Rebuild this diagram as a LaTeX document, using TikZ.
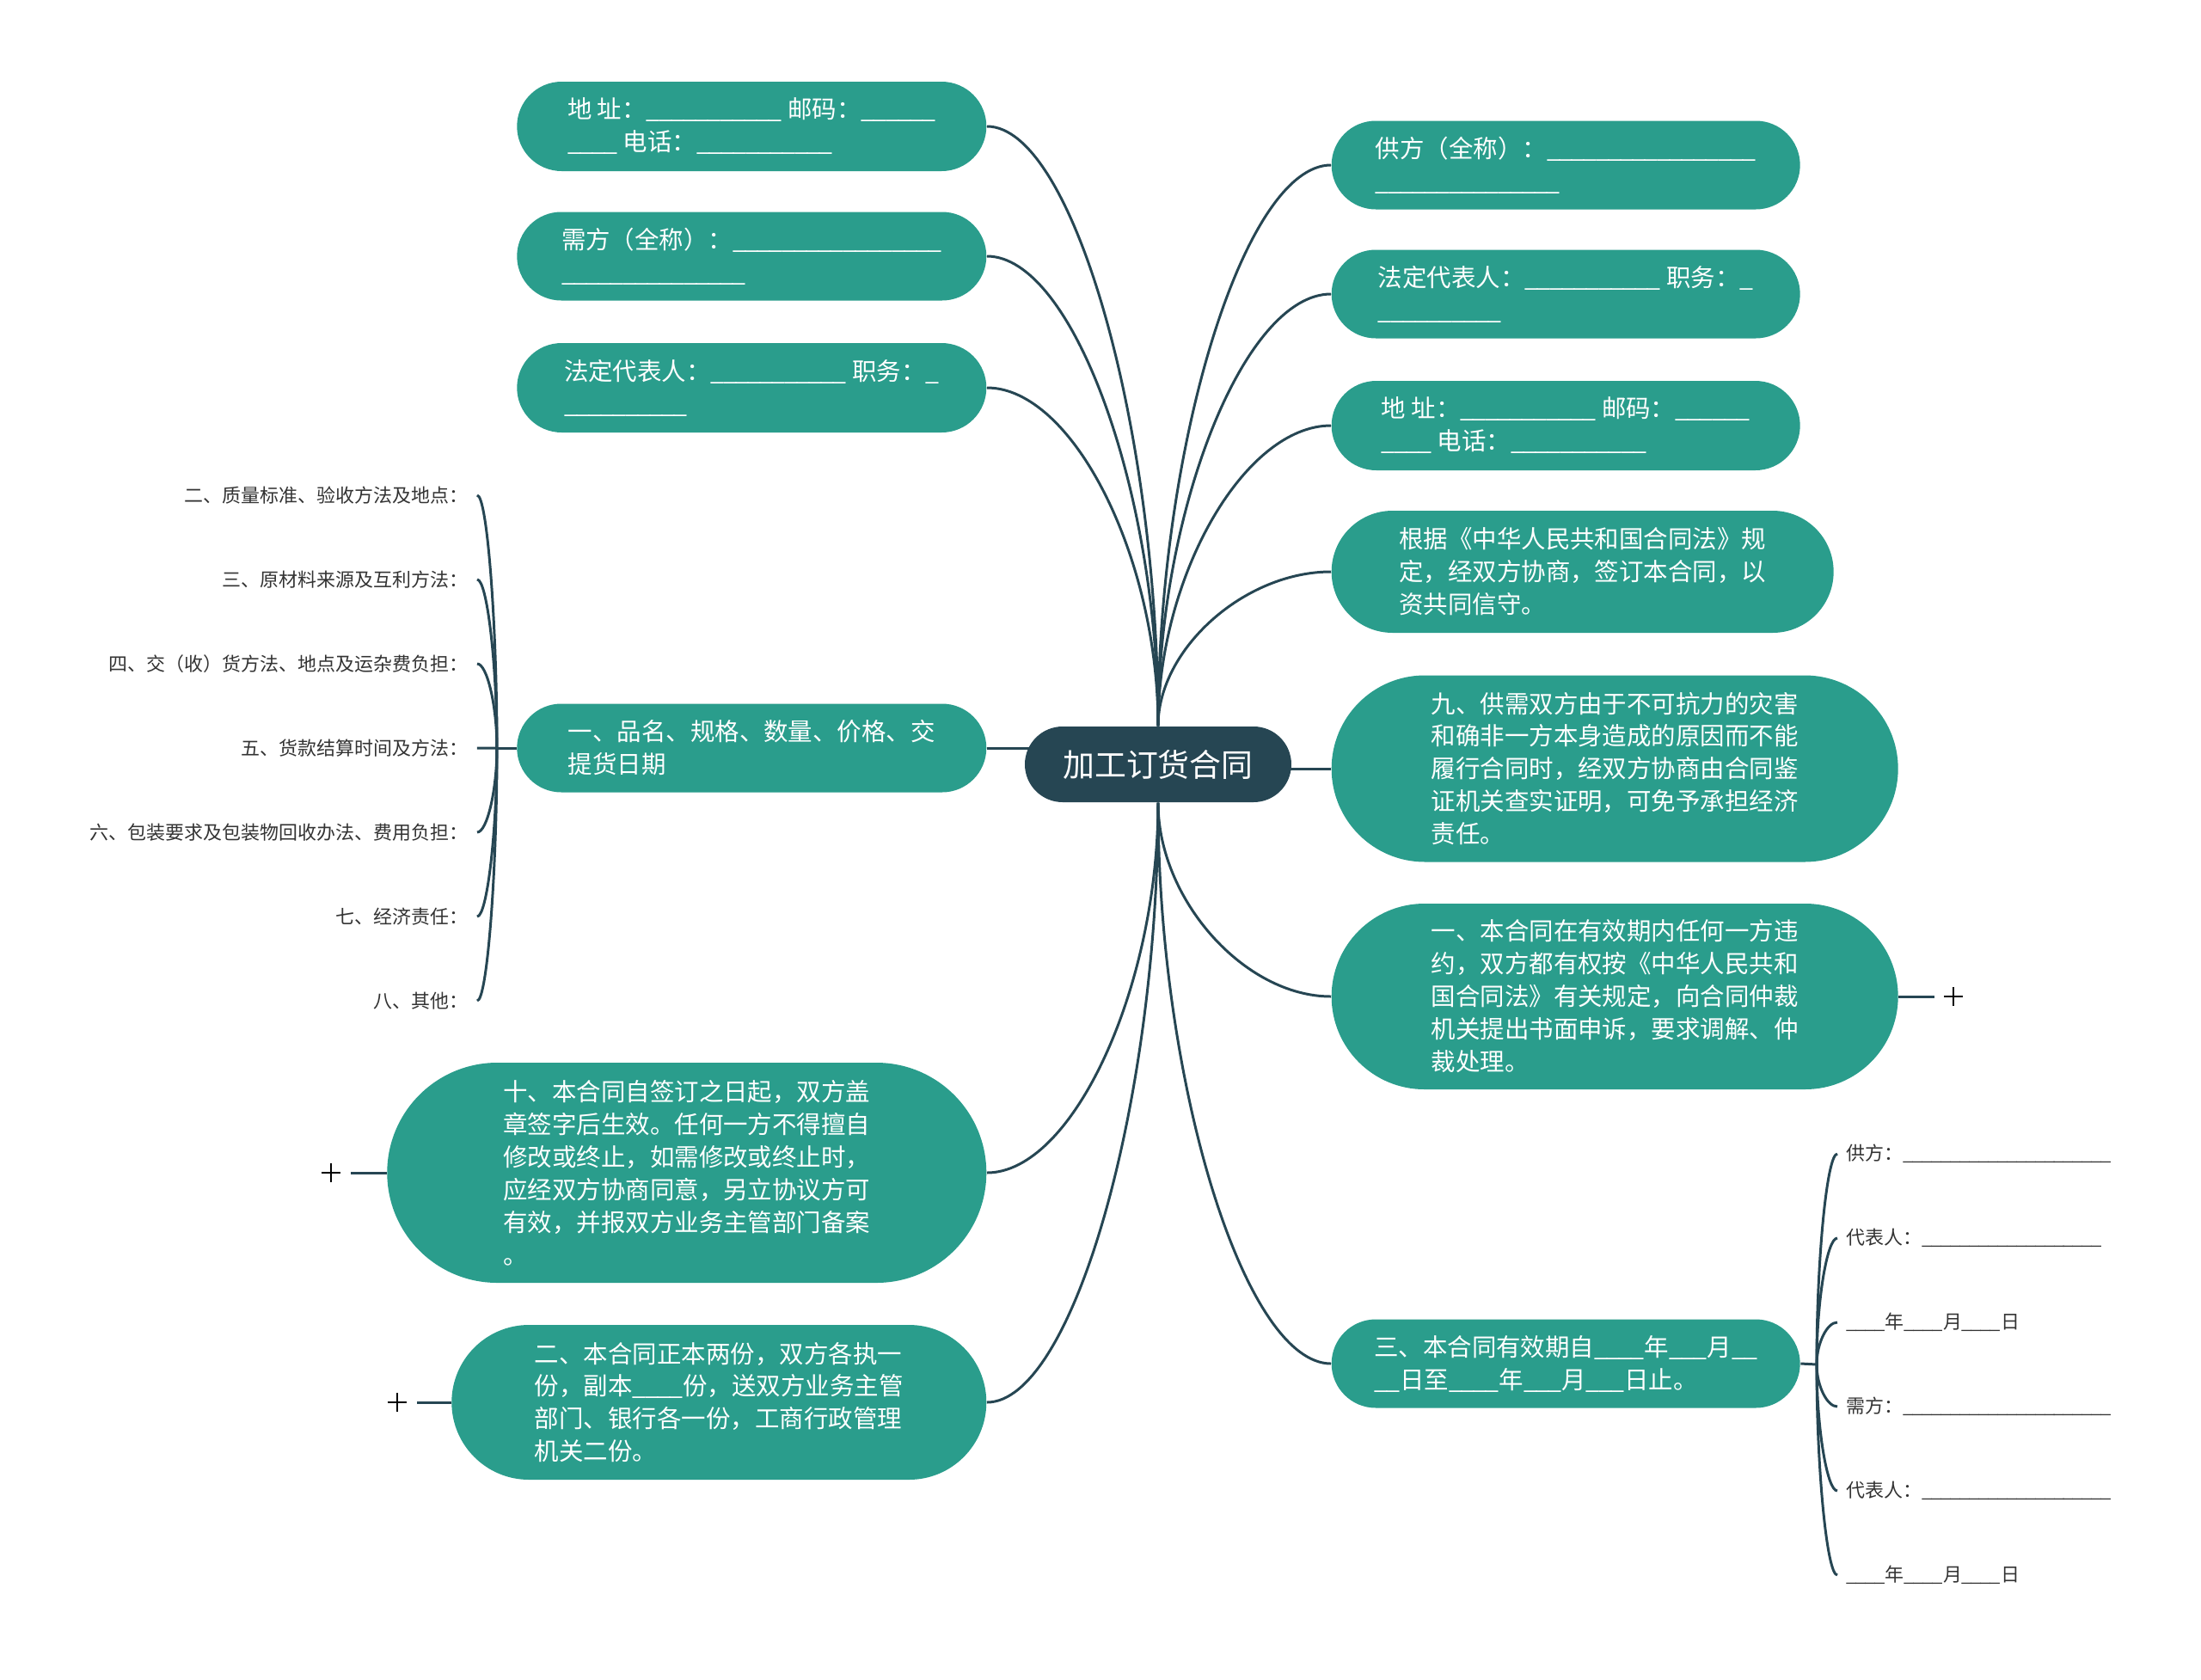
\documentclass[tikz,border=0pt]{standalone}
\usepackage{fontspec}
\setmainfont{Noto Sans CJK SC}
\usetikzlibrary{shapes.misc,calc,backgrounds}

\definecolor{mmTeal}{HTML}{2A9D8C}
\definecolor{mmDark}{HTML}{264653}
\definecolor{mmLeaf}{HTML}{333333}

% a row of underscores, as the form prints them (closed up into one line)
\newcommand\blanks[1]{\foreach \i in {1,...,#1}{\ifnum\i>1 \kern-0.06em\fi\_}}

\begin{document}
\begin{tikzpicture}[
    central/.style={rounded rectangle, fill=mmDark, text=white, inner sep=0pt,
                    minimum width=3.1cm, minimum height=0.88cm,
                    font=\fontsize{10.5}{12}\selectfont},
    topic/.style={rounded rectangle, fill=mmTeal, text=white, inner sep=0pt,
                  align=left, font=\fontsize{8.1}{10.8}\selectfont},
    subitem/.style={inner xsep=0.1cm, inner ysep=0pt, text=mmLeaf,
                    font=\fontsize{6.25}{8}\selectfont},
    link/.style={draw=mmDark, line width=0.85pt},
    plusmark/.pic={\draw[black, line width=0.55pt] (-0.11,0) -- (0.11,0) (0,-0.11) -- (0,0.11);},
]
\useasboundingbox (-13.47,8.89) rectangle (12.13,-10.64);

% Centro
\node[central] (main) at (0,0) {加工订货合同};

% Rami a sinistra
\node[topic, anchor=east, minimum width=5.46cm, minimum height=1.04cm] (l1) at (-1.99,7.42)
    {地 址：\blanks{11} 邮码：\blanks{6}\\\blanks{4} 电话：\blanks{11}};
\node[topic, anchor=east, minimum width=5.46cm, minimum height=1.03cm] (l2) at (-1.99,5.91)
    {需方（全称）：\blanks{17}\\\blanks{15}};
\node[topic, anchor=east, minimum width=5.46cm, minimum height=1.04cm] (l3) at (-1.99,4.38)
    {法定代表人：\blanks{11} 职务：\_\\\blanks{10}};
\node[topic, anchor=east, minimum width=5.46cm, minimum height=1.03cm] (l4) at (-1.99,0.19)
    {一、品名、规格、数量、价格、交\\提货日期};
\node[topic, anchor=east, minimum width=6.97cm, minimum height=2.56cm] (l5) at (-1.99,-4.75)
    {十、本合同自签订之日起，双方盖\\章签字后生效。任何一方不得擅自\\修改或终止，如需修改或终止时，\\应经双方协商同意，另立协议方可\\有效，并报双方业务主管部门备案\\。};
\node[topic, anchor=east, minimum width=6.22cm, minimum height=1.80cm] (l6) at (-1.99,-7.42)
    {二、本合同正本两份，双方各执一\\份，副本\blanks{4}份，送双方业务主管\\部门、银行各一份，工商行政管理\\机关二份。};

% Rami a destra
\node[topic, anchor=west, minimum width=5.45cm, minimum height=1.03cm] (r1) at (2.01,6.97)
    {供方（全称）：\blanks{17}\\\blanks{15}};
\node[topic, anchor=west, minimum width=5.45cm, minimum height=1.03cm] (r2) at (2.01,5.47)
    {法定代表人：\blanks{11} 职务：\_\\\blanks{10}};
\node[topic, anchor=west, minimum width=5.45cm, minimum height=1.04cm] (r3) at (2.01,3.94)
    {地 址：\blanks{11} 邮码：\blanks{6}\\\blanks{4} 电话：\blanks{11}};
\node[topic, anchor=west, minimum width=5.84cm, minimum height=1.42cm] (r4) at (2.01,2.24)
    {根据《中华人民共和国合同法》规\\定，经双方协商，签订本合同，以\\资共同信守。};
\node[topic, anchor=west, minimum width=6.59cm, minimum height=2.17cm] (r5) at (2.01,-0.05)
    {九、供需双方由于不可抗力的灾害\\和确非一方本身造成的原因而不能\\履行合同时，经双方协商由合同鉴\\证机关查实证明，可免予承担经济\\责任。};
\node[topic, anchor=west, minimum width=6.59cm, minimum height=2.16cm] (r6) at (2.01,-2.70)
    {一、本合同在有效期内任何一方违\\约，双方都有权按《中华人民共和\\国合同法》有关规定，向合同仲裁\\机关提出书面申诉，要求调解、仲\\裁处理。};
\node[topic, anchor=west, minimum width=5.45cm, minimum height=1.03cm] (r7) at (2.01,-6.97)
    {三、本合同有效期自\blanks{4}年\blanks{3}月\blanks{2}\\\blanks{2}日至\blanks{4}年\blanks{3}月\blanks{3}日止。};

% Voci del ramo "一、品名"
\node[subitem, anchor=east] (a2) at (-7.92,3.13) {二、质量标准、验收方法及地点：};
\node[subitem, anchor=east] (a3) at (-7.92,2.15) {三、原材料来源及互利方法：};
\node[subitem, anchor=east] (a4) at (-7.92,1.17) {四、交（收）货方法、地点及运杂费负担：};
\node[subitem, anchor=east] (a5) at (-7.92,0.19) {五、货款结算时间及方法：};
\node[subitem, anchor=east] (a6) at (-7.92,-0.79) {六、包装要求及包装物回收办法、费用负担：};
\node[subitem, anchor=east] (a7) at (-7.92,-1.77) {七、经济责任：};
\node[subitem, anchor=east] (a8) at (-7.92,-2.75) {八、其他：};

% Voci del ramo "三、本合同有效期"
\node[subitem, anchor=west] (b1) at (7.90,-4.53) {供方：\blanks{22}};
\node[subitem, anchor=west] (b2) at (7.90,-5.51) {代表人：\blanks{19}};
\node[subitem, anchor=west] (b3) at (7.90,-6.49) {\blanks{4}年\blanks{4}月\blanks{4}日};
\node[subitem, anchor=west] (b4) at (7.90,-7.47) {需方：\blanks{22}};
\node[subitem, anchor=west] (b5) at (7.90,-8.45) {代表人：\blanks{20}};
\node[subitem, anchor=west] (b6) at (7.90,-9.43) {\blanks{4}年\blanks{4}月\blanks{4}日};

\coordinate (jl) at (-7.69,0.19);
\coordinate (jr) at (7.66,-6.98);
\coordinate (c5) at (-9.39,-4.75);
\coordinate (c6) at (-8.62,-7.42);
\coordinate (cr6) at (9.03,-2.70);

% Collegamenti
\begin{scope}[on background layer]
\foreach \t in {l1,l2,l3}
    \draw[link] (main.north) .. controls ($(main.north)!.5!(main.north |- \t.east)$)
        and ($(\t.east)!.5!(main.north |- \t.east)$) .. (\t.east);
\foreach \t in {r1,r2,r3,r4}
    \draw[link] (main.north) .. controls ($(main.north)!.5!(main.north |- \t.west)$)
        and ($(\t.west)!.5!(main.north |- \t.west)$) .. (\t.west);
\foreach \t in {l5,l6}
    \draw[link] (main.south) .. controls ($(main.south)!.5!(main.south |- \t.east)$)
        and ($(\t.east)!.5!(main.south |- \t.east)$) .. (\t.east);
\foreach \t in {r6,r7}
    \draw[link] (main.south) .. controls ($(main.south)!.5!(main.south |- \t.west)$)
        and ($(\t.west)!.5!(main.south |- \t.west)$) .. (\t.west);
\draw[link] (l4.east) -- (l4.east -| main.center);
\draw[link] (r5.west) -- (r5.west -| main.center);
\end{scope}

% Parentesi delle voci
\draw[link] (l4.west) -- (jl);
\foreach \t in {a2,a3,a4,a5,a6,a7,a8}
    \draw[link] (jl) .. controls ($(jl)!.5!(jl |- \t.east)$)
        and ($(\t.east)!.5!(jl |- \t.east)$) .. (\t.east);
\draw[link] (r7.east) -- (jr);
\foreach \t in {b1,b2,b3,b4,b5,b6}
    \draw[link] (jr) .. controls ($(jr)!.5!(jr |- \t.west)$)
        and ($(\t.west)!.5!(jr |- \t.west)$) .. (\t.west);

% Rami chiusi
\draw[link] (l5.west) -- (c5);
\draw[link] (l6.west) -- (c6);
\draw[link] (r6.east) -- (cr6);
\pic at (-9.62,-4.75) {plusmark};
\pic at (-8.85,-7.42) {plusmark};
\pic at (9.25,-2.70) {plusmark};

\end{tikzpicture}
\end{document}
